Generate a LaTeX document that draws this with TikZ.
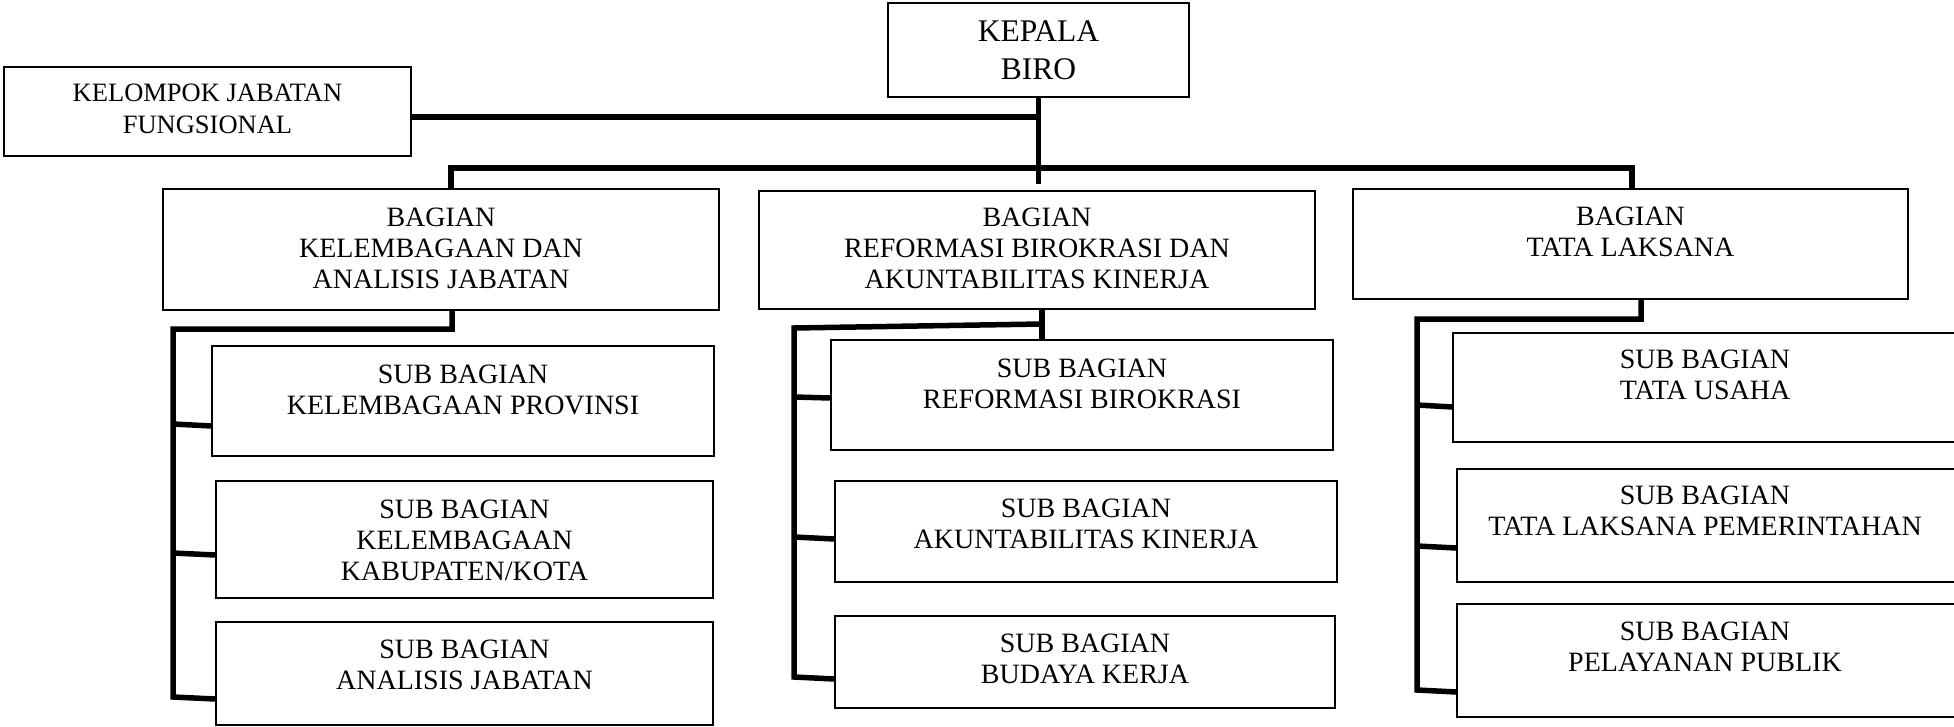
\documentclass[tikz,border=0pt]{standalone}
\usepackage{fontspec}
\setmainfont{Liberation Serif}
\begin{document}
\begin{tikzpicture}[x=1pt,y=-1pt,
  box/.style={draw, line width=1.5pt, inner sep=0pt, anchor=center},
  txt/.style={align=center, inner sep=0pt, font=\fontsize{28}{31}\selectfont},
  conn/.style={line width=5.5pt, line join=miter}]
\useasboundingbox (0,0) rectangle (1954,727);
\clip (0,0) rectangle (1954,727);
% boxes
\node[box, minimum width=301pt, minimum height=94pt] (k) at (1038.5,50) {};
\node[txt, font=\fontsize{31.5}{38}\selectfont] (kt) at (1038.5,50) {KEPALA\\BIRO};
\node[box, minimum width=407pt, minimum height=89pt] (kjf) at (207.5,111.5) {};
\node[txt, font=\fontsize{26.5}{32}\selectfont] (kjft) at (207.5,109) {KELOMPOK JABATAN\\FUNGSIONAL};
\node[box, minimum width=556pt, minimum height=121pt] (b1) at (441,249.5) {};
\node[txt] (b1t) at (441,248) {BAGIAN\\KELEMBAGAAN DAN\\ANALISIS JABATAN};
\node[box, minimum width=556pt, minimum height=118pt] (b2) at (1037,250) {};
\node[txt] (b2t) at (1037,248.5) {BAGIAN\\REFORMASI BIROKRASI DAN\\AKUNTABILITAS KINERJA};
\node[box, minimum width=555pt, minimum height=110pt] (b3) at (1630.5,244) {};
\node[txt] (b3t) at (1630.5,232) {BAGIAN\\TATA LAKSANA};
\node[box, minimum width=502pt, minimum height=110pt] (s1) at (463,401) {};
\node[txt] (s1t) at (463,389.5) {SUB BAGIAN\\KELEMBAGAAN PROVINSI};
\node[box, minimum width=497pt, minimum height=117pt] (s2) at (464.5,539.5) {};
\node[txt] (s2t) at (464.5,540) {SUB BAGIAN\\KELEMBAGAAN\\KABUPATEN/KOTA};
\node[box, minimum width=497pt, minimum height=103pt] (s3) at (464.5,673.5) {};
\node[txt] (s3t) at (464.5,664.5) {SUB BAGIAN\\ANALISIS JABATAN};
\node[box, minimum width=502pt, minimum height=110pt] (m1) at (1082,395) {};
\node[txt] (m1t) at (1082,383.5) {SUB BAGIAN\\REFORMASI BIROKRASI};
\node[box, minimum width=502pt, minimum height=101pt] (m2) at (1086,531.5) {};
\node[txt] (m2t) at (1086,524) {SUB BAGIAN\\AKUNTABILITAS KINERJA};
\node[box, minimum width=500pt, minimum height=92pt] (m3) at (1085,662) {};
\node[txt] (m3t) at (1085,658.5) {SUB BAGIAN\\BUDAYA KERJA};
\node[box, minimum width=507pt, minimum height=109pt] (r1) at (1706.5,387.5) {};
\node[txt] (r1t) at (1705,374.5) {SUB BAGIAN\\TATA USAHA};
\node[box, minimum width=503pt, minimum height=113pt] (r2) at (1708.5,525.5) {};
\node[txt] (r2t) at (1705,510.5) {SUB BAGIAN\\TATA LAKSANA PEMERINTAHAN};
\node[box, minimum width=503pt, minimum height=113pt] (r3) at (1708.5,660.5) {};
\node[txt] (r3t) at (1705,646.5) {SUB BAGIAN\\PELAYANAN PUBLIK};
% connectors
\coordinate (kend) at (1038.5,184);
\draw[conn] (k.south) -- (kend);
\draw[conn] (kjf.east |- 0,117) -- (k.south |- 0,117);
\draw[conn] (b1.north -| 451,0) -- (451,168) -- (1632,168) -- (b3.north -| 1632,0);
% left group
\draw[conn] (b1.south -| 452,0) -- (452,329) -- (173,329) -- (173,697) -- (s3.west |- 0,699);
\draw[conn] (173,424) -- (s1.west |- 0,426);
\draw[conn] (173,553) -- (s2.west |- 0,555);
% middle group
\draw[conn] (b2.south -| 1042,0) -- (m1.north -| 1042,0);
\draw[conn] (1042,324) -- (794,328) -- (794,677) -- (m3.west |- 0,679);
\draw[conn] (794,397) -- (m1.west |- 0,398);
\draw[conn] (794,537) -- (m2.west |- 0,539);
% right group
\draw[conn] (b3.south -| 1641,0) -- (1641,319) -- (1417,319) -- (1417,690) -- (r3.west |- 0,692);
\draw[conn] (1417,405) -- (r1.west |- 0,407);
\draw[conn] (1417,546) -- (r2.west |- 0,548);
\end{tikzpicture}
\end{document}
